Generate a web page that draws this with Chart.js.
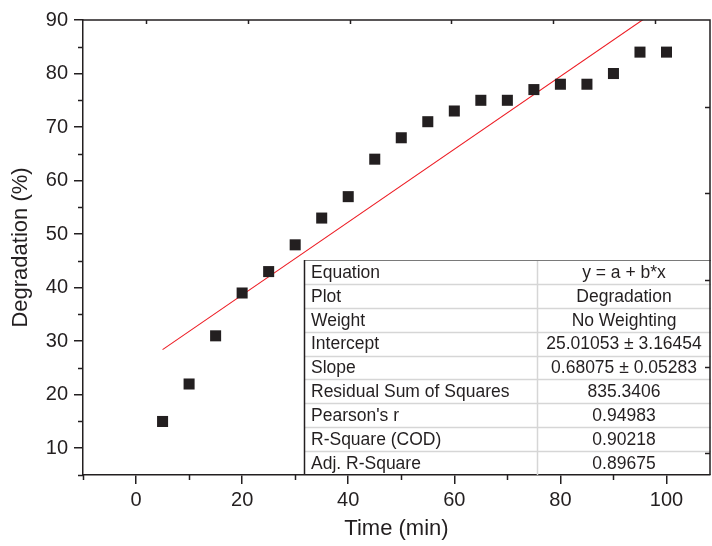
<!DOCTYPE html>
<html>
<head>
<meta charset="utf-8">
<script src="https://cdn.jsdelivr.net/npm/chart.js@4"></script>
<style>
  html, body { margin: 0; padding: 0; background: #fff; }
</style>
</head>
<body>
<canvas id="degChart" width="712" height="546"></canvas>
<script>
var times = [5, 10, 15, 20, 25, 30, 35, 40, 45, 50, 55, 60, 65, 70, 75, 80, 85, 90, 95, 100];
var degradation = [15, 22, 31, 39, 43, 48, 53, 57, 64, 68, 71, 73, 75, 75, 77, 78, 78, 80, 84, 84];

// linear fit y = a + b*x
var intercept = 25.01053;
var slope = 0.68075;

var xTicks = [0, 20, 40, 60, 80, 100];
var xMinorTicks = [-10, 10, 30, 50, 70, 90];
var yTicks = [10, 20, 30, 40, 50, 60, 70, 80, 90];
var yMinorTicks = [5, 15, 25, 35, 45, 55, 65, 75, 85];
var topTicks = [0, 20, 40, 60, 80, 100];
var rightTicks = [0, 20, 40, 60, 80];

var fitLabels = ["Equation", "Plot", "Weight", "Intercept", "Slope",
  "Residual Sum of Squares", "Pearson's r", "R-Square (COD)", "Adj. R-Square"];
var fitValues = ["y = a + b*x", "Degradation", "No Weighting",
  "25.01053 \u00b1 3.16454", "0.68075 \u00b1 0.05283", "835.3406",
  "0.94983", "0.90218", "0.89675"];

var ink = "#231f20";
var fontFamily = '"Liberation Sans", Arial, sans-serif';

Chart.defaults.font.family = fontFamily;
Chart.defaults.color = ink;

function seg(ctx, x1, y1, x2, y2) {
  ctx.beginPath();
  ctx.moveTo(x1, y1);
  ctx.lineTo(x2, y2);
  ctx.stroke();
}

function drawFitTable(ctx, area) {
  var left = 304, mid = 537, right = area.right + 1;
  var top = 260, bottom = area.bottom;
  var rowH = (bottom - top) / fitLabels.length;

  ctx.fillStyle = "#fff";
  ctx.fillRect(left, top, right - left, bottom - top - 1);

  // row separators
  ctx.strokeStyle = "#d6d6d6";
  ctx.lineWidth = 1.5;
  for (var i = 1; i < fitLabels.length; i++) {
    var ry = Math.round(top + i * rowH) + 0.5;
    seg(ctx, left, ry, right, ry);
  }
  seg(ctx, mid + 0.5, top, mid + 0.5, bottom);

  ctx.strokeStyle = "#7a7a7a";
  ctx.lineWidth = 1;
  seg(ctx, left, top + 0.5, right, top + 0.5);
  ctx.strokeStyle = ink;
  ctx.lineWidth = 1.5;
  seg(ctx, left + 0.5, top, left + 0.5, bottom);

  ctx.fillStyle = ink;
  ctx.font = "17.5px " + fontFamily;
  ctx.textBaseline = "middle";
  for (var j = 0; j < fitLabels.length; j++) {
    var cy = top + (j + 0.5) * rowH + 1;
    ctx.textAlign = "left";
    ctx.fillText(fitLabels[j], left + 7, cy);
    ctx.textAlign = "center";
    ctx.fillText(fitValues[j], (mid + right) / 2, cy);
  }
}

var framePlugin = {
  id: "frame",
  afterDraw: function (chart) {
    var ctx = chart.ctx, a = chart.chartArea, s = chart.scales;
    ctx.save();
    drawFitTable(ctx, a);

    ctx.strokeStyle = ink;
    ctx.lineWidth = 1.5;
    ctx.beginPath();
    ctx.moveTo(a.left, a.top);
    ctx.lineTo(a.right, a.top);
    ctx.lineTo(a.right, a.bottom);
    ctx.stroke();

    // minor ticks on the bottom and left axes
    xMinorTicks.forEach(function (v) {
      var px = Math.round(s.x.getPixelForValue(v)) + 0.5;
      seg(ctx, px, a.bottom, px, a.bottom + 5);
    });
    yMinorTicks.forEach(function (v) {
      var py = Math.round(s.y.getPixelForValue(v)) + 0.5;
      seg(ctx, a.left - 5, py, a.left, py);
    });
    // inward ticks on the top and right frame
    topTicks.forEach(function (v) {
      var px = Math.round(s.x2.getPixelForValue(v)) + 0.5;
      seg(ctx, px, a.top, px, a.top + 4);
    });
    rightTicks.forEach(function (v) {
      var py = Math.round(s.y2.getPixelForValue(v)) + 0.5;
      seg(ctx, a.right - 5, py, a.right, py);
    });
    ctx.restore();
  }
};

var points = times.map(function (t, i) { return { x: t, y: degradation[i] }; });
var fitLine = [5, 100].map(function (t) { return { x: t, y: intercept + slope * t }; });

new Chart(document.getElementById("degChart"), {
  type: "scatter",
  data: {
    datasets: [
      {
        label: "Degradation",
        data: points,
        pointStyle: "rect",
        pointRadius: 7.8,
        backgroundColor: ink,
        borderWidth: 0
      },
      {
        label: "Linear Fit",
        data: fitLine,
        showLine: true,
        borderColor: "#ed1c24",
        borderWidth: 1.1,
        pointRadius: 0
      }
    ]
  },
  options: {
    responsive: false,
    animation: false,
    layout: { autoPadding: false, padding: { top: 20, right: 2, left: 0, bottom: 0 } },
    plugins: {
      legend: { display: false },
      tooltip: { enabled: false }
    },
    scales: {
      x: {
        type: "linear",
        position: "bottom",
        min: -10,
        max: 108.2,
        afterBuildTicks: function (s) { s.ticks = xTicks.map(function (v) { return { value: v }; }); },
        afterFit: function (s) { s.height = 71; s.paddingLeft = 0; s.paddingRight = 0; },
        ticks: { font: { size: 20 }, padding: 4, maxRotation: 0 },
        grid: { drawOnChartArea: false, tickLength: 9, color: ink, lineWidth: 1.5 },
        border: { color: ink, width: 1.5 },
        title: { display: true, text: "Time (min)", font: { size: 22 }, padding: { top: 4 } }
      },
      y: {
        type: "linear",
        position: "left",
        min: 5,
        max: 90,
        afterBuildTicks: function (s) { s.ticks = yTicks.map(function (v) { return { value: v }; }); },
        afterFit: function (s) { s.width = 83; s.paddingTop = 0; s.paddingBottom = 0; },
        ticks: { font: { size: 20 }, padding: 6 },
        grid: { drawOnChartArea: false, tickLength: 9, color: ink, lineWidth: 1.5 },
        border: { color: ink, width: 1.5 },
        title: { display: true, text: "Degradation (%)", font: { size: 22 }, padding: { top: 8, bottom: 2 } }
      },
      x2: { type: "linear", position: "top", display: false, min: -12.4, max: 110.8 },
      y2: { type: "linear", position: "right", display: false, min: -5, max: 100 }
    }
  },
  plugins: [framePlugin]
});
</script>
</body>
</html>
